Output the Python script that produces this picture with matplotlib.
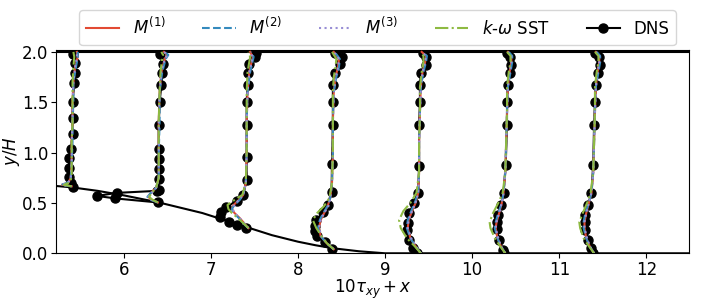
import numpy as np
import matplotlib
matplotlib.use("Agg")
import matplotlib.pyplot as plt
from matplotlib.lines import Line2D

# streamwise stations and the lower-wall (hill) and upper-wall geometry
stations = [5, 6, 7, 8, 9, 10, 11]
hill_x = [5.2, 5.4, 5.7, 6.0, 6.4, 6.9, 7.3, 7.7, 8.0, 8.2, 8.4, 8.7, 9.0, 12.5]
hill_y = [0.67, 0.655, 0.62, 0.575, 0.505, 0.40, 0.29, 0.18, 0.115, 0.08, 0.05, 0.02, 0.0, 0.0]
top_wall_y = 2.0

# DNS profiles (y/H, tau_xy) per station
dns_y = [
    [0.66, 0.70, 0.76, 0.85, 0.95, 1.04, 1.18, 1.34, 1.50, 1.69, 1.79, 1.89, 1.98],
    [0.505, 0.545, 0.57, 0.60, 0.62, 0.63, 0.74, 0.84, 0.94, 1.04, 1.27, 1.50, 1.67, 1.79, 1.88, 1.98],
    [0.25, 0.28, 0.31, 0.36, 0.41, 0.46, 0.52, 0.58, 0.73, 0.96, 1.27, 1.50, 1.67, 1.79, 1.88, 1.95, 1.99],
    [0.04, 0.115, 0.17, 0.22, 0.27, 0.33, 0.41, 0.48, 0.61, 0.89, 1.27, 1.50, 1.67, 1.79, 1.88, 1.95, 1.99],
    [0.0, 0.05, 0.13, 0.23, 0.30, 0.40, 0.50, 0.60, 0.87, 1.27, 1.50, 1.67, 1.79, 1.87, 1.95, 1.99],
    [0.0, 0.03, 0.13, 0.24, 0.31, 0.38, 0.48, 0.60, 0.88, 1.27, 1.50, 1.67, 1.79, 1.87, 1.95, 1.99],
    [0.0, 0.05, 0.13, 0.23, 0.31, 0.38, 0.48, 0.60, 0.88, 1.27, 1.50, 1.67, 1.79, 1.87, 1.95, 1.99],
]
dns_tau = [
    [0.041, 0.039, 0.037, 0.037, 0.037, 0.039, 0.041, 0.041, 0.041, 0.043, 0.044, 0.044, 0.042],
    [0.039, -0.010, -0.031, -0.008, 0.038, 0.040, 0.040, 0.040, 0.040, 0.040, 0.040, 0.041, 0.043, 0.044, 0.045, 0.042],
    [0.040, 0.030, 0.021, 0.010, 0.012, 0.017, 0.030, 0.037, 0.041, 0.041, 0.041, 0.041, 0.042, 0.043, 0.044, 0.050, 0.052],
    [0.039, 0.031, 0.022, 0.019, 0.019, 0.021, 0.029, 0.034, 0.0385, 0.039, 0.040, 0.040, 0.040, 0.042, 0.048, 0.050, 0.043],
    [0.037, 0.032, 0.028, 0.025, 0.026, 0.028, 0.033, 0.038, 0.039, 0.039, 0.040, 0.040, 0.041, 0.047, 0.047, 0.043],
    [0.037, 0.0355, 0.031, 0.028, 0.028, 0.030, 0.033, 0.036, 0.0385, 0.040, 0.040, 0.041, 0.043, 0.045, 0.044, 0.040],
    [0.039, 0.036, 0.033, 0.030, 0.030, 0.030, 0.033, 0.037, 0.039, 0.040, 0.041, 0.042, 0.044, 0.047, 0.0455, 0.041],
]

# model predictions share one y grid per station
mod_y = [
    [0.665, 0.68, 0.70, 0.75, 0.90, 1.10, 1.30, 1.50, 1.70, 1.85, 1.95, 2.00],
    [0.505, 0.53, 0.56, 0.60, 0.65, 0.75, 1.00, 1.30, 1.60, 1.80, 1.93, 1.97, 2.00],
    [0.25, 0.30, 0.35, 0.40, 0.44, 0.48, 0.53, 0.58, 0.70, 1.00, 1.30, 1.60, 1.80, 1.95, 2.00],
    [0.04, 0.10, 0.17, 0.25, 0.33, 0.40, 0.47, 0.55, 0.70, 1.00, 1.30, 1.60, 1.75, 1.85, 1.93, 2.00],
    [0.0, 0.07, 0.15, 0.25, 0.33, 0.42, 0.50, 0.60, 0.80, 1.10, 1.40, 1.65, 1.80, 1.90, 1.96, 2.00],
    [0.0, 0.07, 0.15, 0.25, 0.31, 0.40, 0.50, 0.60, 0.80, 1.10, 1.40, 1.65, 1.80, 1.90, 1.96, 2.00],
    [0.0, 0.07, 0.15, 0.25, 0.31, 0.40, 0.50, 0.60, 0.80, 1.10, 1.40, 1.65, 1.80, 1.90, 1.96, 2.00],
]
m1_tau = [
    [0.040, 0.029, 0.036, 0.039, 0.040, 0.040, 0.041, 0.041, 0.042, 0.044, 0.047, 0.046],
    [0.039, 0.032, 0.028, 0.031, 0.037, 0.040, 0.040, 0.040, 0.041, 0.043, 0.047, 0.050, 0.046],
    [0.043, 0.038, 0.033, 0.027, 0.024, 0.026, 0.032, 0.037, 0.040, 0.041, 0.041, 0.042, 0.044, 0.048, 0.045],
    [0.041, 0.033, 0.026, 0.024, 0.026, 0.030, 0.034, 0.037, 0.039, 0.040, 0.040, 0.041, 0.043, 0.046, 0.047, 0.041],
    [0.041, 0.035, 0.029, 0.026, 0.027, 0.031, 0.035, 0.038, 0.039, 0.039, 0.040, 0.041, 0.043, 0.046, 0.047, 0.042],
    [0.038, 0.033, 0.029, 0.027, 0.028, 0.031, 0.034, 0.036, 0.038, 0.039, 0.040, 0.041, 0.043, 0.045, 0.045, 0.041],
    [0.040, 0.035, 0.031, 0.029, 0.029, 0.031, 0.034, 0.037, 0.039, 0.040, 0.041, 0.042, 0.044, 0.046, 0.046, 0.042],
]
m2_tau = [
    [0.040, 0.028, 0.035, 0.039, 0.040, 0.041, 0.041, 0.042, 0.042, 0.045, 0.047, 0.047],
    [0.039, 0.031, 0.027, 0.031, 0.037, 0.040, 0.040, 0.041, 0.041, 0.044, 0.048, 0.051, 0.047],
    [0.043, 0.037, 0.032, 0.026, 0.024, 0.027, 0.033, 0.037, 0.040, 0.041, 0.041, 0.042, 0.045, 0.049, 0.046],
    [0.041, 0.033, 0.026, 0.023, 0.025, 0.029, 0.034, 0.037, 0.039, 0.040, 0.040, 0.041, 0.044, 0.047, 0.048, 0.042],
    [0.041, 0.035, 0.029, 0.025, 0.026, 0.030, 0.034, 0.038, 0.039, 0.039, 0.040, 0.041, 0.044, 0.047, 0.048, 0.043],
    [0.038, 0.033, 0.029, 0.026, 0.027, 0.030, 0.034, 0.036, 0.038, 0.039, 0.040, 0.041, 0.044, 0.046, 0.046, 0.042],
    [0.040, 0.035, 0.031, 0.028, 0.028, 0.030, 0.034, 0.037, 0.039, 0.040, 0.041, 0.042, 0.045, 0.047, 0.047, 0.043],
]
m3_tau = [
    [0.040, 0.029, 0.036, 0.039, 0.040, 0.040, 0.041, 0.041, 0.042, 0.044, 0.046, 0.046],
    [0.039, 0.032, 0.028, 0.032, 0.037, 0.040, 0.040, 0.040, 0.041, 0.043, 0.047, 0.050, 0.046],
    [0.043, 0.038, 0.033, 0.027, 0.025, 0.027, 0.032, 0.037, 0.040, 0.041, 0.041, 0.042, 0.044, 0.048, 0.045],
    [0.041, 0.033, 0.027, 0.024, 0.026, 0.030, 0.035, 0.037, 0.039, 0.040, 0.040, 0.041, 0.043, 0.046, 0.047, 0.041],
    [0.041, 0.035, 0.030, 0.026, 0.027, 0.031, 0.035, 0.038, 0.039, 0.039, 0.040, 0.041, 0.043, 0.046, 0.047, 0.042],
    [0.038, 0.033, 0.030, 0.027, 0.028, 0.031, 0.034, 0.036, 0.038, 0.039, 0.040, 0.041, 0.043, 0.045, 0.045, 0.041],
    [0.040, 0.035, 0.032, 0.029, 0.029, 0.031, 0.034, 0.037, 0.039, 0.040, 0.041, 0.042, 0.044, 0.046, 0.046, 0.042],
]
sst_tau = [
    [0.040, 0.031, 0.037, 0.040, 0.040, 0.040, 0.041, 0.041, 0.041, 0.042, 0.043, 0.042],
    [0.039, 0.033, 0.029, 0.032, 0.037, 0.040, 0.040, 0.040, 0.041, 0.042, 0.044, 0.045, 0.043],
    [0.043, 0.037, 0.031, 0.024, 0.020, 0.019, 0.027, 0.036, 0.040, 0.041, 0.041, 0.041, 0.042, 0.045, 0.043],
    [0.041, 0.033, 0.027, 0.021, 0.017, 0.022, 0.030, 0.036, 0.039, 0.040, 0.040, 0.040, 0.041, 0.043, 0.044, 0.039],
    [0.041, 0.034, 0.025, 0.018, 0.016, 0.021, 0.029, 0.036, 0.039, 0.039, 0.040, 0.040, 0.042, 0.044, 0.044, 0.041],
    [0.038, 0.032, 0.026, 0.021, 0.020, 0.024, 0.030, 0.035, 0.038, 0.039, 0.040, 0.040, 0.042, 0.044, 0.044, 0.040],
    [0.040, 0.034, 0.028, 0.024, 0.023, 0.027, 0.032, 0.036, 0.039, 0.040, 0.041, 0.041, 0.043, 0.045, 0.045, 0.041],
]

labels = [r'$M^{(1)}$', r'$M^{(2)}$', r'$M^{(3)}$', r'$k$-$\omega$ SST', 'DNS']
colors = ['#E24A33', '#348ABD', '#988ED5', '#8EBA42']
styles = ['-', '--', ':', '-.']
scale = 10

plt.rcParams['font.size'] = 12

fig = plt.figure(figsize=(7.06, 3.0), dpi=100)
ax = fig.add_axes([0.0793, 0.1557, 0.8966, 0.678])

ax.plot(hill_x, hill_y, 'k-', lw=1.5)
ax.plot([hill_x[0], hill_x[-1]], [top_wall_y, top_wall_y], 'k-', lw=1.5)

for i, s in enumerate(stations):
    ax.plot(scale * np.array(dns_tau[i]) + s, dns_y[i], 'k-o', lw=1.5, ms=6.5, zorder=2)
    for tau, c, ls in zip([m1_tau, m2_tau, m3_tau, sst_tau], colors, styles):
        ax.plot(scale * np.array(tau[i]) + s, mod_y[i], color=c, ls=ls, lw=1.5, zorder=3)

ax.set_xlim(5.22, 12.49)
ax.set_ylim(0, 2.02)
ax.set_yticks([0.0, 0.5, 1.0, 1.5, 2.0])
ax.tick_params(pad=2)
ax.set_xlabel(r'$10\tau_{xy} + x$', labelpad=-1)
ax.set_ylabel(r'$y/H$', labelpad=0)

handles = [Line2D([], [], color=c, ls=ls, lw=1.5) for c, ls in zip(colors, styles)]
handles.append(Line2D([], [], color='k', marker='o', lw=1.5, ms=6.5))
ax.legend(handles, labels, ncol=5, loc='lower center', bbox_to_anchor=(0.508, 1.0),
          borderaxespad=0.3, columnspacing=2.2)

fig.savefig('out.png', dpi=100)
